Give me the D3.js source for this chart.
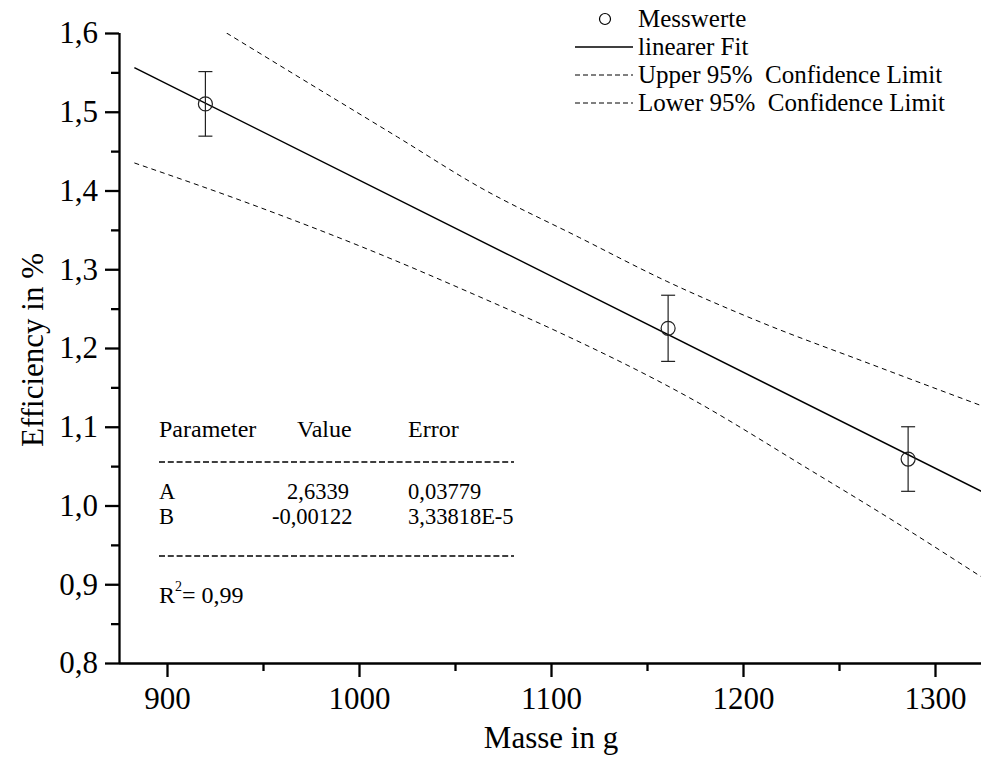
<!DOCTYPE html>
<html>
<head>
<meta charset="utf-8">
<script src="https://cdn.jsdelivr.net/npm/d3@7"></script>
<style>
  body { margin: 0; background: #fff; }
  svg { display: block; font-family: "Liberation Serif", "Times New Roman", serif; }
</style>
</head>
<body>
<div id="graph"></div>
<script>
// measured points
const masses = [920, 1161, 1286];
const efficiency = [1.51, 1.225, 1.059];
const errors = [0.041, 0.042, 0.041];

// linear fit, read at both ends of the plot
const fitMass = [883, 1325];
const fitEff = [1.556, 1.017];

// confidence limits
const upperMass = [931, 970, 1020, 1063, 1115, 1160, 1209, 1266, 1325];
const upperEff = [1.600, 1.542, 1.468, 1.404, 1.340, 1.285, 1.233, 1.180, 1.126];
const lowerMass = [883, 940, 1012, 1060, 1105, 1172, 1235, 1280, 1325];
const lowerEff = [1.435, 1.386, 1.318, 1.268, 1.219, 1.137, 1.045, 0.978, 0.908];

const xTicks = [900, 1000, 1100, 1200, 1300];
const xMinor = [950, 1050, 1150, 1250];
const yTicks = [0.8, 0.9, 1.0, 1.1, 1.2, 1.3, 1.4, 1.5, 1.6];
const yMinor = [0.85, 0.95, 1.05, 1.15, 1.25, 1.35, 1.45, 1.55];

const paramRows = [
  ["Parameter", "Value", "Error"],
  ["A", "2,6339", "0,03779"],
  ["B", "-0,00122", "3,33818E-5"]
];
const legendLabels = ["Messwerte", "linearer Fit", "Upper 95%  Confidence Limit", "Lower 95%  Confidence Limit"];

const width = 981;
const height = 771;
const marginLeft = 119;
const marginRight = -2;
const marginTop = 33;
const marginBottom = 108;

const comma = v => d3.format(".1f")(v).replace(".", ",");

const xScale = d3.scaleLinear()
                 .domain([875, 1325])
                 .range([marginLeft, width - marginRight]);

const yScale = d3.scaleLinear()
                 .domain([0.8, 1.6])
                 .range([height - marginBottom, marginTop]);

const svg = d3.create("svg")
              .attr("width", width)
              .attr("height", height);

svg.append("defs").append("clipPath")
   .attr("id", "plot")
   .append("rect")
   .attr("x", marginLeft)
   .attr("y", marginTop)
   .attr("width", width - marginLeft)
   .attr("height", height - marginBottom - marginTop);

const plot = svg.append("g").attr("clip-path", "url(#plot)");

const line = d3.line()
               .x(d => xScale(d[0]))
               .y(d => yScale(d[1]))
               .curve(d3.curveMonotoneX);

//confidence limits
plot.append("path")
    .datum(d3.zip(upperMass, upperEff))
    .attr("d", line)
    .attr("fill", "none")
    .attr("stroke", "#000")
    .attr("stroke-width", 1)
    .attr("stroke-dasharray", "5,4");

plot.append("path")
    .datum(d3.zip(lowerMass, lowerEff))
    .attr("d", line)
    .attr("fill", "none")
    .attr("stroke", "#000")
    .attr("stroke-width", 1)
    .attr("stroke-dasharray", "5,4");

//fit
plot.append("path")
    .datum(d3.zip(fitMass, fitEff))
    .attr("d", line)
    .attr("fill", "none")
    .attr("stroke", "#000")
    .attr("stroke-width", 1.5);

//error bars
const points = d3.zip(masses, efficiency, errors);
const bars = plot.selectAll(".err")
                 .data(points)
                 .enter()
                 .append("g")
                 .attr("class", "err")
                 .attr("stroke", "#222")
                 .attr("stroke-width", 1.2);

bars.append("line")
    .attr("x1", d => xScale(d[0]))
    .attr("x2", d => xScale(d[0]))
    .attr("y1", d => yScale(d[1] + d[2]))
    .attr("y2", d => yScale(d[1] - d[2]));

bars.append("line")
    .attr("x1", d => xScale(d[0]) - 7)
    .attr("x2", d => xScale(d[0]) + 7)
    .attr("y1", d => yScale(d[1] + d[2]))
    .attr("y2", d => yScale(d[1] + d[2]));

bars.append("line")
    .attr("x1", d => xScale(d[0]) - 7)
    .attr("x2", d => xScale(d[0]) + 7)
    .attr("y1", d => yScale(d[1] - d[2]))
    .attr("y2", d => yScale(d[1] - d[2]));

plot.selectAll(".pt")
    .data(points)
    .enter()
    .append("circle")
    .attr("class", "pt")
    .attr("cx", d => xScale(d[0]))
    .attr("cy", d => yScale(d[1]))
    .attr("r", 7)
    .attr("fill", "none")
    .attr("stroke", "#222")
    .attr("stroke-width", 1.2);

//x-axis
const xAxis = d3.axisBottom(xScale)
                .tickValues(xTicks)
                .tickSize(14)
                .tickPadding(10)
                .tickFormat(d3.format("d"));

const xMinorAxis = d3.axisBottom(xScale)
                     .tickValues(xMinor)
                     .tickSize(8)
                     .tickFormat("");

const gx = svg.append("g")
              .attr("transform", `translate(0, ${height - marginBottom})`)
              .call(xAxis);
svg.append("g")
   .attr("transform", `translate(0, ${height - marginBottom})`)
   .call(xMinorAxis)
   .select(".domain").remove();

//y-axis
const yAxis = d3.axisLeft(yScale)
                .tickValues(yTicks)
                .tickSize(14)
                .tickPadding(7)
                .tickFormat(comma);

const yMinorAxis = d3.axisLeft(yScale)
                     .tickValues(yMinor)
                     .tickSize(8)
                     .tickFormat("");

const gy = svg.append("g")
              .attr("transform", `translate(${marginLeft}, 0)`)
              .call(yAxis);
svg.append("g")
   .attr("transform", `translate(${marginLeft}, 0)`)
   .call(yMinorAxis)
   .select(".domain").remove();

svg.selectAll(".domain").attr("stroke-width", 2.3);
gx.select(".domain").attr("d", `M${marginLeft},0.5H${width}`);
gy.select(".domain").attr("d", `M0.5,${marginTop}V${height - marginBottom}`);

svg.selectAll(".tick line").attr("stroke-width", 2.3);
svg.selectAll(".tick text")
   .attr("font-family", "Liberation Serif")
   .attr("font-size", 31)
   .attr("fill", "#000");

//axis titles
svg.append("text")
   .attr("x", 551)
   .attr("y", 748)
   .attr("text-anchor", "middle")
   .attr("font-size", 31)
   .text("Masse in g");

svg.append("text")
   .attr("transform", "rotate(-90)")
   .attr("x", -350)
   .attr("y", 43)
   .attr("text-anchor", "middle")
   .attr("font-size", 31)
   .text("Efficiency in %");

//legend
const legend = svg.append("g")
                  .attr("font-size", 25)
                  .attr("xml:space", "preserve");

const legendY = [19, 47, 75, 103];

legend.selectAll("text")
      .data(legendLabels)
      .enter()
      .append("text")
      .attr("x", 638)
      .attr("y", (d, i) => legendY[i] + 8)
      .style("white-space", "pre")
      .text(d => d);

legend.append("circle")
      .attr("cx", 605)
      .attr("cy", legendY[0])
      .attr("r", 5.5)
      .attr("fill", "none")
      .attr("stroke", "#000")
      .attr("stroke-width", 1.2);

legend.selectAll("line")
      .data([1, 2, 3])
      .enter()
      .append("line")
      .attr("x1", 575)
      .attr("x2", 633)
      .attr("y1", i => legendY[i])
      .attr("y2", i => legendY[i])
      .attr("stroke", "#000")
      .attr("stroke-width", i => i === 1 ? 1.3 : 1)
      .attr("stroke-dasharray", i => i === 1 ? null : "5,3");

//parameter table
const table = svg.append("g").attr("font-size", 22.5);
const colX = [159, [297, 287, 272], 408];
const rowY = [437, 499, 524];

paramRows.forEach((row, r) => {
  row.forEach((cell, c) => {
    table.append("text")
         .attr("x", c === 1 ? colX[1][r] : colX[c])
         .attr("y", rowY[r])
         .attr("font-size", r === 0 ? 24 : 22.5)
         .text(cell);
  });
});

[462, 556].forEach(yy => {
  table.append("line")
       .attr("x1", 159)
       .attr("x2", 514)
       .attr("y1", yy)
       .attr("y2", yy)
       .attr("stroke", "#000")
       .attr("stroke-width", 1.4)
       .attr("stroke-dasharray", "6,2.8");
});

const r2 = table.append("text")
                .attr("x", 159)
                .attr("y", 603)
                .attr("font-size", 24);
r2.append("tspan").text("R");
r2.append("tspan").attr("font-size", 14).attr("dy", -12).text("2");
r2.append("tspan").attr("dy", 12).text("= 0,99");

d3.select("#graph").append(() => svg.node());
</script>
</body>
</html>
